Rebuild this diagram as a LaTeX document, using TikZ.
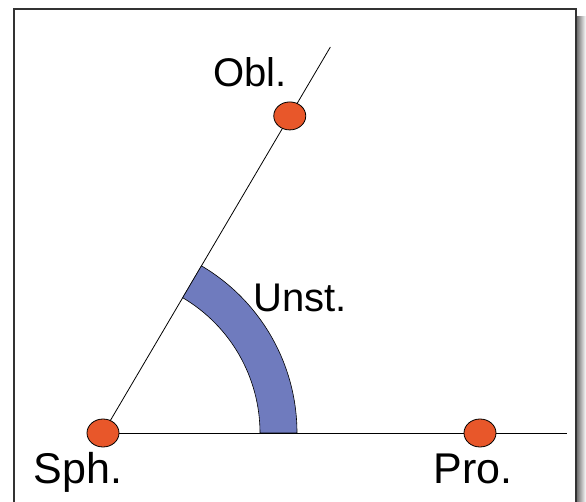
\documentclass[tikz,border=0pt]{standalone}
\usepackage{fontspec}
\setmainfont{Liberation Sans}
\usetikzlibrary{shapes.geometric,calc}
\definecolor{dotorange}{HTML}{E8572A}
\definecolor{bandblue}{HTML}{6F7BBE}
\tikzset{
  dot/.style={ellipse, draw=black, line width=0.8pt, fill=dotorange, minimum width=32pt, minimum height=28pt, inner sep=0pt},
  axis/.style={line width=0.8pt, black},
  lbl/.style={anchor=base, inner sep=0pt},
}
\begin{document}
\begin{tikzpicture}[x=1pt,y=-1pt]
\useasboundingbox (0,0) rectangle (586,502);
\fill[white] (0,0) rectangle (586,502);
% shadow
\shade[left color=black!55, right color=white] (577,17) rectangle (586,502);
% frame
\draw[line width=1.6pt, black!80] (14,520) -- (14,9) -- (576,9) -- (576,520);
% geometry
\coordinate (sc) at (103,433);
\coordinate (hend) at (567,433);
\coordinate (oend) at ($(sc)+(-59.5:448)$);
\draw[axis] (sc) -- (hend);
\draw[axis] (sc) -- (oend);
% band
\filldraw[fill=bandblue, draw=black, line width=0.6pt]
  ([shift={(0:157)}]sc) arc[start angle=0, end angle=-59.5, radius=157]
  -- ([shift={(-59.5:194)}]sc) arc[start angle=-59.5, end angle=0, radius=194] -- cycle;
\draw[axis] (sc) -- (hend);
% dots
\node[dot] (S) at (sc) {};
\node[dot] (O) at ($(sc)+(-59.5:368)$) {};
\node[dot] (P) at (480,433) {};
% labels
\node[lbl, font=\fontsize{40}{40}\selectfont] (lo) at (250,87) {Obl.};
\node[lbl, font=\fontsize{40}{40}\selectfont] (lu) at (300,312) {Unst.};
\node[lbl, font=\fontsize{43}{43}\selectfont] (ls) at (78,483) {Sph.};
\node[lbl, font=\fontsize{43}{43}\selectfont] (lp) at (473,483) {Pro.};
\end{tikzpicture}
\end{document}
